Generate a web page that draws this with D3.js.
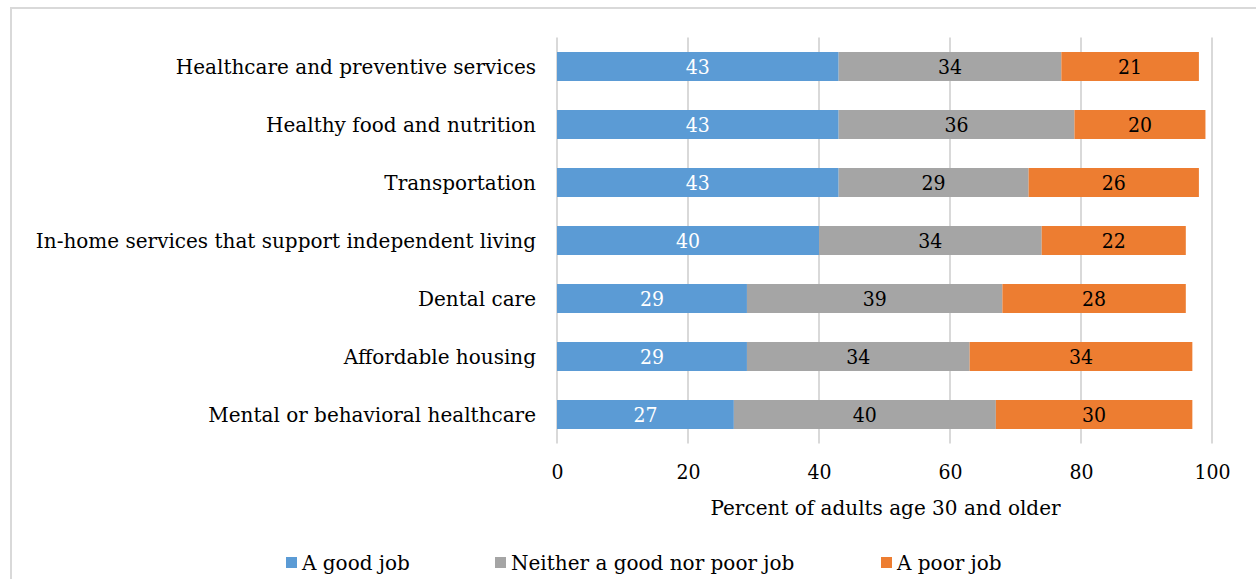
<!DOCTYPE html>
<html>
<head>
<meta charset="utf-8">
<script src="https://cdn.jsdelivr.net/npm/d3@7"></script>
<style>
  html, body { margin: 0; padding: 0; background: #fff; }
  svg text { font-family: "DejaVu Serif", serif; fill: #000; }
  svg text.num { font-stretch: condensed; }
</style>
</head>
<body>
<div id="chart"></div>
<script>
const categories = [
    'Healthcare and preventive services',
    'Healthy food and nutrition',
    'Transportation',
    'In-home services that support independent living',
    'Dental care',
    'Affordable housing',
    'Mental or behavioral healthcare'
];
const seriesNames = ['A good job', 'Neither a good nor poor job', 'A poor job'];
const goodJob = [43, 43, 43, 40, 29, 29, 27];
const neitherJob = [34, 36, 29, 34, 39, 34, 40];
const poorJob = [21, 20, 26, 22, 28, 34, 30];
const xTicks = [0, 20, 40, 60, 80, 100];

const colors = ['#5B9BD5', '#A5A5A5', '#ED7D31'];
const labelColors = ['#fff', '#000', '#000'];

const width = 1256, height = 579;
const margin = { left: 557, right: 44, top: 37.5, bottom: 135.5 };

const rows = categories.map((c, i) => ({ cat: c, values: [goodJob[i], neitherJob[i], poorJob[i]] }));

const svg = d3.select('#chart').append('svg')
    .attr('width', width)
    .attr('height', height);

// chart frame
svg.append('rect')
    .attr('x', 11).attr('y', 8)
    .attr('width', width + 20).attr('height', height + 20)
    .attr('fill', 'none')
    .attr('stroke', '#d9d9d9')
    .attr('stroke-width', 2);

const x = d3.scaleLinear()
    .domain([0, 100])
    .range([margin.left, width - margin.right]);

const y = d3.scaleBand()
    .domain(categories)
    .range([margin.top, height - margin.bottom])
    .paddingInner(0.5)
    .paddingOuter(0.25);

// gridlines
svg.append('g')
    .attr('class', 'grid')
    .selectAll('line')
    .data(xTicks)
    .join('line')
    .attr('x1', d => x(d)).attr('x2', d => x(d))
    .attr('y1', margin.top).attr('y2', height - margin.bottom)
    .attr('stroke', '#d9d9d9')
    .attr('stroke-width', 2);

// stacked bars
const stack = d3.stack().keys([0, 1, 2]).value((d, k) => d.values[k]);
const layers = stack(rows);

const layerG = svg.append('g').selectAll('g')
    .data(layers)
    .join('g')
    .attr('fill', (d, i) => colors[i]);

layerG.selectAll('rect')
    .data(d => d)
    .join('rect')
    .attr('x', d => x(d[0]))
    .attr('width', d => x(d[1]) - x(d[0]))
    .attr('y', d => y(d.data.cat))
    .attr('height', y.bandwidth());

layerG.selectAll('text')
    .data((d, i) => d.map(s => ({ s, i })))
    .join('text')
    .attr('class', 'num')
    .attr('x', d => (x(d.s[0]) + x(d.s[1])) / 2)
    .attr('y', d => y(d.s.data.cat) + y.bandwidth() / 2)
    .attr('dy', '0.36em')
    .attr('text-anchor', 'middle')
    .style('font-size', '21px')
    .style('fill', d => labelColors[d.i])
    .text(d => d.s[1] - d.s[0]);

// category labels
svg.append('g').selectAll('text')
    .data(categories)
    .join('text')
    .attr('x', margin.left - 21)
    .attr('y', d => y(d) + y.bandwidth() / 2)
    .attr('dy', '0.36em')
    .attr('text-anchor', 'end')
    .style('font-size', '20px')
    .text(d => d);

// x axis
const xAxis = svg.append('g')
    .attr('transform', `translate(0, ${height - margin.bottom})`)
    .call(d3.axisBottom(x).tickValues(xTicks).tickSize(0).tickPadding(21));
xAxis.select('.domain').remove();
xAxis.selectAll('text')
    .attr('class', 'num')
    .style('font-size', '21px')
    .style('font-family', '"DejaVu Serif", serif');

svg.append('text')
    .attr('x', x(50) + 1)
    .attr('y', 508)
    .attr('dy', '0.36em')
    .attr('text-anchor', 'middle')
    .style('font-size', '20px')
    .text('Percent of adults age 30 and older');

// legend
const legendX = [286, 495, 881];
const legend = svg.append('g').selectAll('g')
    .data(seriesNames)
    .join('g')
    .attr('transform', (d, i) => `translate(${legendX[i]}, 563)`);
legend.append('rect')
    .attr('x', 0).attr('y', -6)
    .attr('width', 11).attr('height', 11)
    .attr('fill', (d, i) => colors[i]);
legend.append('text')
    .attr('x', 16)
    .attr('dy', '0.36em')
    .style('font-size', '20px')
    .text(d => d);
</script>
</body>
</html>
